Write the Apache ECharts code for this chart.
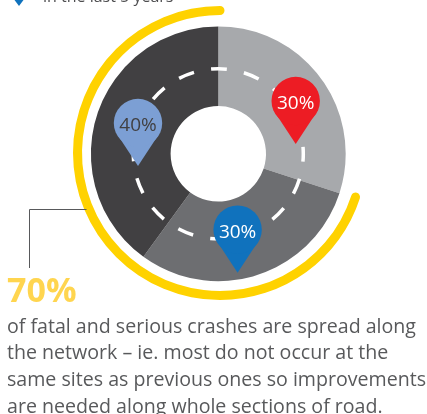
<!DOCTYPE html>
<html>
<head>
<meta charset="utf-8">
<style>
  html, body { margin: 0; padding: 0; background: #fff; }
  #chart { width: 427px; height: 414px; }
</style>
<script src="https://cdn.jsdelivr.net/npm/echarts@6/dist/echarts.min.js"></script>
</head>
<body>
<div id="chart"></div>
<script>
const sliceNames = ['Red', 'Blue', 'Light blue']
const sliceShares = [30, 30, 40]
const spreadShare = 70
const topNote = 'in the last 5 years'
const bodyLines = [
  'of fatal and serious crashes are spread along',
  'the network – ie. most do not occur at the',
  'same sites as previous ones so improvements',
  'are needed along whole sections of road.'
]

const font = '"Open Sans", sans-serif'
const textColor = '#58595b'

// map pin drawn with its tip at 0,0
function pin(x, y, color, labelColor, share) {
  return {
    type: 'group',
    x: x,
    y: y,
    z: 20,
    children: [
      { type: 'polygon', z: 20, shape: { points: [[0, 0], [-20, -30.5], [20, -30.5]] }, style: { fill: color } },
      { type: 'circle', z: 20, shape: { cx: 0, cy: -43, r: 24.2 }, style: { fill: color } },
      {
        type: 'text',
        z: 21,
        x: 0,
        y: -40,
        style: { text: share + '%', fill: labelColor, font: '19px ' + font, textAlign: 'center', textVerticalAlign: 'middle' }
      }
    ]
  }
}

const chart = echarts.init(document.getElementById('chart'), null, { renderer: 'canvas' })

chart.setOption({
  animation: false,
  series: [
    {
      type: 'pie',
      silent: true,
      center: [218.3, 153.8],
      radius: [47.7, 127.4],
      startAngle: 90,
      label: { show: false },
      labelLine: { show: false },
      data: sliceNames.map((name, i) => ({
        name: name,
        value: sliceShares[i],
        itemStyle: { color: ['#a7a9ac', '#6d6e71', '#414042'][i] }
      }))
    },
    {
      type: 'gauge',
      silent: true,
      center: [220, 153],
      radius: 147,
      startAngle: 90,
      endAngle: -270,
      clockwise: false,
      min: 0,
      max: 100,
      progress: { show: true, roundCap: true, width: 9, itemStyle: { color: '#ffd200' } },
      axisLine: { show: false },
      axisTick: { show: false },
      splitLine: { show: false },
      axisLabel: { show: false },
      pointer: { show: false },
      title: { show: false },
      detail: { show: false },
      data: [{ value: spreadShare }]
    }
  ],
  graphic: [
    // road markings
    {
      type: 'circle',
      z: 10,
      shape: { cx: 218.3, cy: 153.8, r: 85 },
      style: { fill: null, stroke: '#fff', lineWidth: 3.5, lineDash: [16, 17.38], lineDashOffset: 8 }
    },
    pin(295.7, 144, '#ed1c24', '#fff', sliceShares[0]),
    pin(237.6, 272.7, '#1072bd', '#fff', sliceShares[1]),
    pin(138, 166, '#7c9fd4', '#414042', sliceShares[2]),
    // clipped legend row at the top
    {
      type: 'group',
      x: 19,
      y: 6,
      z: 20,
      children: [
        { type: 'polygon', z: 20, shape: { points: [[0, 0], [-6, -8], [6, -8]] }, style: { fill: '#1072bd' } }
      ]
    },
    {
      type: 'text',
      z: 20,
      x: 43,
      y: -11,
      style: { text: topNote, fill: '#4d4d4f', font: '16px ' + font }
    },
    // leader line to the 70% label
    {
      type: 'polyline',
      z: 5,
      shape: { points: [[86.5, 209.5], [29.5, 209.5], [29.5, 268]] },
      style: { fill: null, stroke: '#58595b', lineWidth: 1 }
    },
    {
      type: 'text',
      z: 20,
      x: 7,
      y: 275,
      style: { text: spreadShare + '%', fill: '#ffd54f', font: 'bold 34px ' + font }
    },
    ...bodyLines.map((line, i) => ({
      type: 'text',
      z: 20,
      x: 7,
      y: 317 + i * 26.7,
      style: { text: line, fill: textColor, font: '19.6px ' + font }
    }))
  ]
})
</script>
</body>
</html>
